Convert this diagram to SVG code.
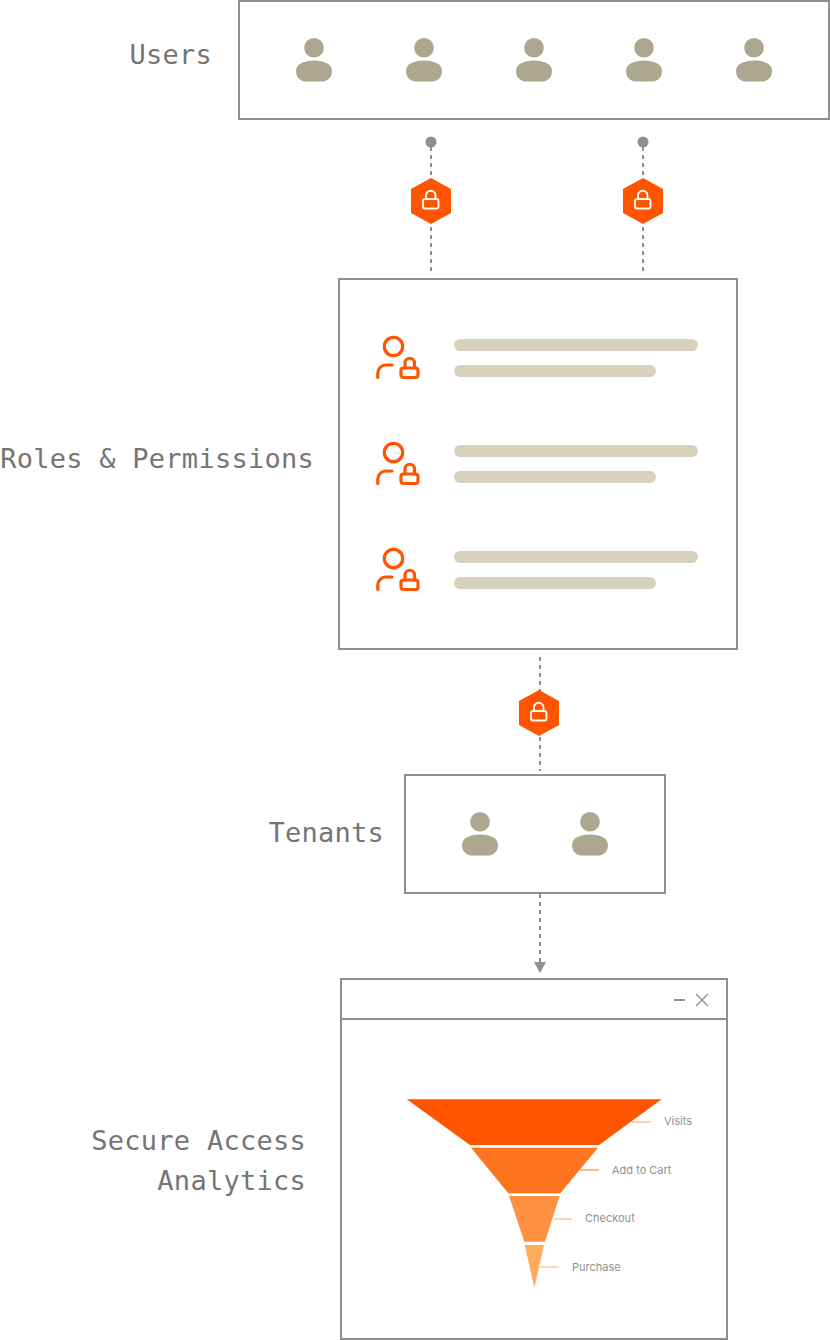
<svg xmlns="http://www.w3.org/2000/svg" width="830" height="1340" viewBox="0 0 830 1340">
<style>
.box{fill:#fff;stroke:#8f8f8f;stroke-width:2}
.lab{font-family:"DejaVu Sans Mono","Liberation Mono",monospace;font-size:27px;letter-spacing:.26px;fill:#757575;text-anchor:end}
.dash{fill:none;stroke:#8f8f8f;stroke-width:2;stroke-dasharray:4 4}
.p{fill:#aea78f}
.bar{fill:#d7d0bc}
.ic{fill:none;stroke:#ff5500;stroke-width:3.200;stroke-linecap:round;stroke-linejoin:round}
.hex{fill:#ff5500}
.lk{fill:none;stroke:#fff;stroke-width:1.800;stroke-linejoin:round}
.ft{font-family:Inter,"Noto Sans",sans-serif;font-size:11px;fill:#909090}
</style>
<defs>
<g id="person"><circle cx="0" cy="-12.300" r="9.800" class="p"/><path class="p" d="M-18 11C-18 4-10 .5 0 .5S18 4 18 11C18 19 12 21.500 8 21.500H-8C-12 21.500-18 19-18 11Z"/></g>
<g id="hexlock"><polygon class="hex" points="0,-23 20,-12 20,12 0,23 -20,12 -20,-12"/><rect class="lk" x="-8" y="-2" width="15.500" height="9.500" rx="2"/><path class="lk" d="M-5-2V-5.500A4.750 4.750 0 0 1 4.500-5.500V-2"/></g>
<g id="rolei"><circle cx="15.500" cy="-11.500" r="9.200" class="ic"/><path class="ic" d="M-.2 19.500V15A8 8 0 0 1 8 7H14"/><rect class="ic" x="23" y="10" width="17" height="9.500" rx="2.500"/><path class="ic" d="M27 10V5A4.750 4.750 0 0 1 36.500 5V10"/></g>
</defs>
<g id="connectors">
<circle cx="431" cy="142" r="5.500" fill="#8f8f8f"/><circle cx="643" cy="142" r="5.500" fill="#8f8f8f"/>
<path class="dash" d="M431 147V271M643 147V271M540 657V771M540 894V962"/>
<polygon points="534,962 546,962 540,973" fill="#8f8f8f"/>
</g>
<g id="users"><rect class="box" x="239" y="1" width="590" height="118"/><text class="lab" x="212" y="64">Users</text>
<use href="#person" x="314" y="60"/><use href="#person" x="424" y="60"/><use href="#person" x="534" y="60"/><use href="#person" x="644" y="60"/><use href="#person" x="754" y="60"/></g>
<g id="lock1"><use href="#hexlock" x="431" y="201"/></g>
<g id="lock2"><use href="#hexlock" x="643" y="201"/></g>
<g id="roles"><rect class="box" x="339" y="279" width="398" height="370"/><text class="lab" x="314" y="468">Roles &amp; Permissions</text>
<use href="#rolei" x="378" y="358"/><use href="#rolei" x="378" y="464"/><use href="#rolei" x="378" y="570"/>
<rect class="bar" x="454" y="339" width="244" height="12" rx="6"/><rect class="bar" x="454" y="365" width="202" height="12" rx="6"/>
<rect class="bar" x="454" y="445" width="244" height="12" rx="6"/><rect class="bar" x="454" y="471" width="202" height="12" rx="6"/>
<rect class="bar" x="454" y="551" width="244" height="12" rx="6"/><rect class="bar" x="454" y="577" width="202" height="12" rx="6"/></g>
<g id="lock3"><use href="#hexlock" x="539" y="713"/></g>
<g id="tenants"><rect class="box" x="405" y="775" width="260" height="118"/><text class="lab" x="384" y="842">Tenants</text>
<use href="#person" x="480" y="834"/><use href="#person" x="590" y="834"/></g>
<g id="analytics"><rect class="box" x="341" y="979" width="386" height="360"/><path d="M341 1019H727" fill="none" stroke="#8f8f8f" stroke-width="2"/>
<path d="M674 1000H685" fill="none" stroke="#8f8f8f" stroke-width="2"/><path d="M696 994L708 1006M708 994L696 1006" fill="none" stroke="#8f8f8f" stroke-width="1.300"/>
<text class="lab" x="306" y="1150">Secure Access</text><text class="lab" x="306" y="1190">Analytics</text>
<polygon points="406.700,1099.300 661.700,1099.300 599,1145 470,1145" fill="#ff5500"/>
<polygon points="471,1147.700 598,1147.700 560.300,1193.300 508.300,1193.300" fill="#ff7420"/>
<polygon points="509,1196 559.500,1196 545,1241.700 524.300,1241.700" fill="#ff9140"/>
<polygon points="524.700,1245 544,1245 534.300,1288" fill="#ffad5c"/>
<path d="M632 1122H651" stroke="#ff5500" stroke-opacity=".6" fill="none"/><path d="M580 1170H599" stroke="#ff7420" fill="none"/><path d="M553 1219H572" stroke="#ff9140" stroke-opacity=".8" fill="none"/><path d="M540 1267H559" stroke="#ffad5c" fill="none"/>
<text class="ft" x="664" y="1125">Visits</text><text class="ft" x="612" y="1174">Add to Cart</text><text class="ft" x="585" y="1222">Checkout</text><text class="ft" x="572" y="1271">Purchase</text></g>
</svg>
